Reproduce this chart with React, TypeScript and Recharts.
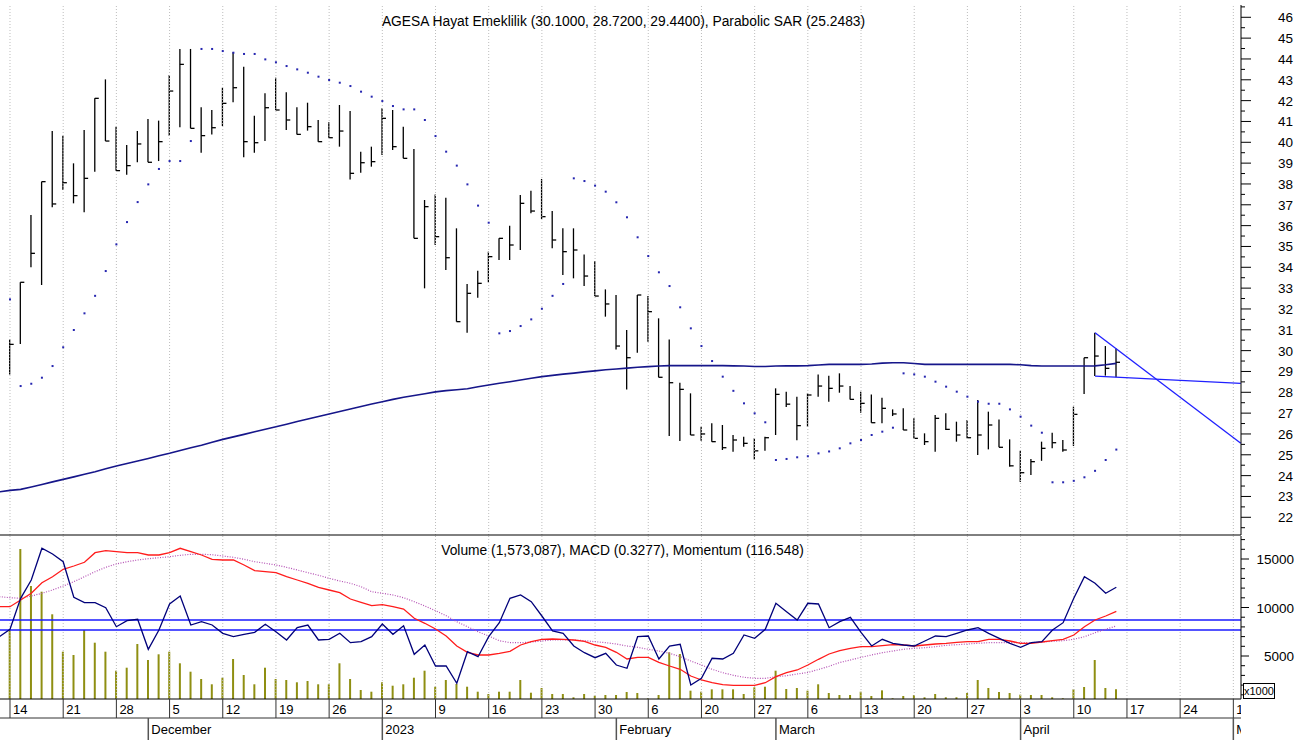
import { ComposedChart, Bar, Line, XAxis, YAxis, ReferenceLine } from 'recharts'

const FONT = '"Liberation Sans", Arial, Helvetica, sans-serif'
const PLOT_W = 1241

// trading-day index: 0 = 14 Nov 2022 ... 104 = 14 Apr 2023
const highs = [
    30.54, 33.28, 36.51, 38.11, 40.54, 40.32, 38.99, 40.59, 42.11, 43.02,
    40.75, 39.87, 40.54, 41.12, 41.04, 43.23, 44.48, 44.48, 41.68, 41.55,
    42.62, 44.32, 43.63, 41.28, 42.35, 43.1, 42.4, 41.68, 41.9, 41.07,
    40.96, 41.79, 41.5, 39.55, 39.79, 41.63, 41.55, 40.75, 39.68, 37.23,
    37.5, 37.34, 35.87, 33.2, 33.83, 34.75, 35.39, 36.0, 37.47, 37.68,
    38.24, 36.7, 35.87, 35.87, 34.62, 34.3, 32.94, 32.67, 30.99, 32.67,
    32.62, 31.55, 30.54, 28.46, 27.95, 26.35, 26.51, 26.43, 25.95, 25.87,
    25.79, 25.87, 28.19, 28.03, 27.79, 27.95, 28.86, 28.79, 28.91, 28.3,
    28.03, 27.9, 27.74, 27.18, 27.23, 26.75, 26.03, 26.91, 26.99, 26.59,
    26.67, 27.63, 27.07, 26.7, 25.74, 25.19, 24.8, 25.63, 26.06, 25.71,
    27.31, 29.66, 30.86, 30.22, 30.1,
]
const lows = [
    28.86, 30.32, 34.0, 33.15, 36.88, 37.71, 37.07, 36.64, 38.59, 40.06,
    38.64, 38.44, 39.04, 39.04, 39.1, 40.32, 40.72, 40.67, 39.5, 40.38,
    40.78, 41.92, 39.28, 39.5, 40.06, 41.55, 40.59, 40.38, 40.56, 40.03,
    40.22, 39.79, 38.22, 38.54, 38.83, 39.39, 39.63, 39.23, 35.39, 32.99,
    35.07, 33.87, 31.39, 30.86, 32.54, 33.28, 34.35, 34.35, 34.83, 36.59,
    36.32, 34.91, 33.63, 33.47, 33.1, 32.62, 31.63, 30.06, 28.14, 29.9,
    30.43, 28.72, 25.9, 25.66, 25.95, 25.67, 25.63, 25.23, 25.15, 25.39,
    24.78, 25.19, 25.95, 27.3, 25.7, 26.35, 27.79, 27.55, 27.98, 27.66,
    27.02, 26.54, 26.51, 26.86, 26.19, 25.79, 25.47, 25.15, 26.19, 25.63,
    25.79, 24.99, 25.26, 25.36, 24.43, 23.7, 24.03, 24.71, 25.31, 25.15,
    25.42, 27.92, 28.78, 28.8, 28.72,
]
const closes = [
    30.3, 33.28, 34.67, 38.11, 37.04, 38.06, 37.44, 38.27, 42.11, 40.06,
    38.64, 38.88, 39.92, 39.04, 40.03, 42.46, 43.74, 40.67, 40.32, 40.7,
    41.87, 42.62, 40.03, 39.98, 41.66, 41.55, 41.07, 40.38, 40.75, 40.03,
    40.22, 40.54, 38.51, 39.02, 39.07, 41.15, 39.79, 39.23, 35.39, 36.91,
    35.47, 34.46, 31.39, 32.75, 33.23, 34.51, 35.39, 35.07, 37.07, 36.7,
    36.43, 35.31, 34.75, 34.83, 33.58, 32.62, 32.24, 30.22, 29.66, 32.67,
    31.87, 28.72, 28.46, 28.14, 25.95, 26.0, 25.63, 25.34, 25.71, 25.55,
    25.19, 25.82, 27.9, 27.43, 26.4, 27.87, 28.3, 28.19, 28.3, 27.66,
    27.47, 26.54, 27.23, 26.96, 26.19, 25.79, 25.63, 26.75, 26.22, 25.95,
    25.82, 25.95, 26.43, 25.36, 24.47, 24.14, 24.67, 25.31, 25.58, 25.23,
    26.94, 29.66, 29.74, 29.15, 29.44,
]
const sarValues = [
    32.46, 28.3, 28.41, 28.7, 29.26, 30.16, 30.99, 31.79, 32.63, 33.82,
    35.1, 36.17, 37.13, 37.98, 38.72, 39.1, 39.1, 40.06, 44.48, 44.48,
    44.38, 44.3, 44.24, 44.24, 43.98, 43.84, 43.66, 43.5, 43.34, 43.15,
    42.99, 42.86, 42.7, 42.43, 42.19, 41.98, 41.74, 41.58, 41.58, 41.07,
    40.3, 39.55, 38.88, 37.98, 36.96, 36.14, 30.83, 30.94, 31.18, 31.5,
    32.01, 32.63, 33.2, 38.27, 38.14, 37.92, 37.63, 37.12, 36.4, 35.44,
    34.54, 33.76, 33.1, 32.08, 31.07, 30.22, 29.5, 28.75, 28.07, 27.47,
    26.99, 26.56, 24.75, 24.8, 24.88, 24.93, 25.07, 25.16, 25.31, 25.55,
    25.71, 25.95, 26.11, 26.3, 28.91, 28.86, 28.75, 28.51, 28.27, 28.03,
    27.79, 27.55, 27.45, 27.45, 27.18, 26.83, 26.4, 26.06, 23.68, 23.68,
    23.75, 23.92, 24.23, 24.75, 25.25,
]

// the series below start one day earlier (11 Nov 2022, index -1)
const maValues = [
    23.22,
    23.29, 23.34, 23.45, 23.57, 23.7, 23.82, 23.94, 24.07, 24.19, 24.33,
    24.46, 24.58, 24.7, 24.82, 24.95, 25.07, 25.21, 25.34, 25.46, 25.6,
    25.74, 25.86, 25.98, 26.11, 26.23, 26.35, 26.47, 26.6, 26.72, 26.84,
    26.96, 27.08, 27.2, 27.32, 27.44, 27.55, 27.66, 27.76, 27.85, 27.93,
    28.02, 28.08, 28.12, 28.17, 28.27, 28.35, 28.43, 28.51, 28.59, 28.67,
    28.75, 28.81, 28.87, 28.92, 28.98, 29.03, 29.08, 29.12, 29.16, 29.2,
    29.23, 29.26, 29.28, 29.28, 29.28, 29.28, 29.28, 29.28, 29.27, 29.26,
    29.24, 29.24, 29.26, 29.27, 29.27, 29.28, 29.31, 29.34, 29.34, 29.34,
    29.34, 29.36, 29.4, 29.42, 29.42, 29.38, 29.34, 29.34, 29.34, 29.34,
    29.34, 29.34, 29.34, 29.34, 29.34, 29.32, 29.28, 29.26, 29.26, 29.26,
    29.26, 29.26, 29.27, 29.32, 29.39,
]
const volumes = [
    null,
    7681, 16032, 12217, 11630, 9300, 5444, 5103, 7681, 6372, 5444,
    3485, 3794, 6237, 4588, 5175, 5444, 4248, 3382, 2629, 2083,
    2763, 4691, 3041, 2083, 3794, 2629, 2526, 2289, 2423, 2083,
    2083, 4248, 2629, 1495, 1320, 2289, 1938, 2083, 2763, 3485,
    1835, 2526, 2114, 1835, 1320, 1083, 1320, 1320, 2526, 1217,
    1701, 1083, 1083, 742, 1083, 907, 980, 980, 1290, 1186,
    640, 980, 5380, 5207, 1425, 1320, 1564, 1564, 1564, 1083,
    1770, 1835, 3485, 1598, 1701, 1425, 2083, 1186, 980, 980,
    1320, 876, 1460, 636, 876, 980, 742, 1083, 742, 742,
    1186, 2526, 1701, 1290, 1186, 1014, 980, 980, 742, 636,
    1564, 1804, 4588, 1701, 1573,
]
const macdValues = [
    10083,
    10083, 10774, 11465, 12558, 13176, 13939, 14279, 14661, 15651, 15857,
    15754, 15651, 15651, 15413, 15413, 15651, 16104, 15754, 15413, 14970,
    14898, 14898, 14382, 13795, 13692, 13589, 13176, 12836, 12496, 12083,
    11805, 11527, 10877, 10537, 10186, 10289, 10083, 9846, 8887, 8372,
    7784, 7062, 6031, 5382, 5103, 5103, 5279, 5485, 6134, 6475,
    6722, 6753, 6722, 6650, 6516, 6134, 5897, 5382, 4691, 4866,
    4866, 4351, 3969, 3629, 2938, 2526, 2248, 2041, 1980, 1980,
    1980, 2248, 2866, 3279, 3557, 4072, 4660, 5207, 5547, 5794,
    5959, 5959, 6062, 6165, 6134, 6031, 6134, 6238, 6310, 6413,
    6475, 6475, 6722, 6722, 6547, 6310, 6310, 6444, 6578, 6722,
    7165, 8021, 8712, 9124, 9609,
]
const signalValues = [
    11114,
    11011, 10949, 11186, 11465, 11805, 12217, 12661, 13176, 13692, 14145,
    14486, 14723, 14898, 15032, 15135, 15238, 15383, 15486, 15486, 15444,
    15310, 15176, 14970, 14723, 14558, 14382, 14145, 13867, 13589, 13321,
    13011, 12733, 12496, 12145, 11630, 11465, 11289, 11011, 10599, 10155,
    9671, 9155, 8537, 8021, 7506, 7062, 6578, 6372, 6372, 6444,
    6547, 6650, 6650, 6650, 6578, 6475, 6372, 6238, 6031, 5897,
    5691, 5516, 5279, 4928, 4485, 4072, 3629, 3279, 3011, 2804,
    2701, 2701, 2866, 2969, 3145, 3300, 3609, 3938, 4330, 4588,
    4866, 5103, 5341, 5516, 5691, 5794, 5856, 5959, 6104, 6165,
    6238, 6310, 6372, 6372, 6372, 6372, 6372, 6444, 6516, 6578,
    6722, 6990, 7403, 7753, 8093,
]
const momentumValues = [
    6990,
    7753, 10949, 12836, 16104, 15517, 14723, 11052, 10496, 10496, 9980,
    8021, 8640, 8784, 5691, 7681, 10362, 11186, 8196, 8537, 8196,
    7341, 6990, 7238, 7444, 8269, 7506, 6650, 7918, 8196, 6650,
    6722, 7341, 6372, 6475, 6990, 8300, 7238, 8124, 5176, 6134,
    3969, 3969, 2186, 5444, 4928, 6990, 8434, 10949, 11289, 10599,
    9124, 7578, 7341, 6031, 5341, 4825, 5279, 4072, 3732, 6990,
    7062, 4691, 6031, 6207, 2010, 2701, 4763, 4691, 5279, 7165,
    6825, 7753, 10434, 9568, 8712, 10434, 10362, 7918, 8537, 8990,
    7444, 6031, 6722, 6310, 6134, 6031, 6547, 7062, 6990, 7341,
    7681, 7918, 7341, 6825, 6310, 5897, 6372, 6475, 7681, 8434,
    10949, 13176, 12496, 11465, 12083,
]

const momentumLevels = [8712, 7681]
const trendLines = [
    { x1: 102, y1: 30.86, x2: 115.7, y2: 25.55 },
    { x1: 102, y1: 28.78, x2: 115.7, y2: 28.43 },
]

const weekTicks = [0, 5, 10, 15, 20, 25, 30, 35, 40, 45, 50, 55, 60, 65, 70, 75, 80, 85, 90, 95, 100, 105, 110, 115]
const weekLabels = ['14', '21', '28', '5', '12', '19', '26', '2', '9', '16', '23', '30', '6', '20', '27', '6', '13', '20', '27', '3', '10', '17', '24', '1']
const monthTicks = [13, 35, 57, 72, 95, 115]
const monthLabels = ['December', '2023', 'February', 'March', 'April', 'May']
const priceTicks = [
    21.5, 22, 22.5, 23, 23.5, 24, 24.5, 25, 25.5, 26, 26.5, 27, 27.5, 28, 28.5, 29, 29.5,
    30, 30.5, 31, 31.5, 32, 32.5, 33, 33.5, 34, 34.5, 35, 35.5, 36, 36.5, 37, 37.5, 38,
    38.5, 39, 39.5, 40, 40.5, 41, 41.5, 42, 42.5, 43, 43.5, 44, 44.5, 45, 45.5, 46, 46.5,
]
const volumeTicks = [1000, 2000, 3000, 4000, 5000, 6000, 7000, 8000, 9000, 10000, 11000, 12000, 13000, 14000, 15000, 16000, 17000]

const X_DOMAIN: [number, number] = [-0.94, 115.72]

const rows = maValues.map((ma, k) => {
    const d = k - 1
    const has = d >= 0
    return {
        i: d,
        hl: has ? [lows[d], highs[d]] : null,
        close: has ? closes[d] : null,
        sar: has ? sarValues[d] : null,
        ma,
        vol: volumes[k],
        macd: macdValues[k],
        signal: signalValues[k],
        mom: momentumValues[k],
    }
})

function HlcBar(props: any) {
    const { x, y, width, height, payload } = props
    if (!payload || !payload.hl || height == null) return <g />
    const cx = x + width / 2
    const top = Math.min(y, y + height)
    const bottom = Math.max(y, y + height)
    const [lo, hi] = payload.hl
    const cy = top + ((hi - payload.close) / (hi - lo)) * (bottom - top)
    return (
        <g>
            <line x1={cx} x2={cx} y1={top} y2={bottom} stroke="#000" strokeWidth={1.3} />
            <line x1={cx} x2={cx + 4} y1={cy} y2={cy} stroke="#000" strokeWidth={1.3} />
        </g>
    )
}

function SarDot(props: any) {
    const { cx, cy } = props
    if (cx == null || cy == null) return <g />
    return <rect x={cx - 1} y={cy - 1} width={2} height={2} fill="#2626b0" />
}

function PriceTick(props: any) {
    const { x, y, payload } = props
    const major = Number.isInteger(payload.value)
    return (
        <g>
            <line x1={x} x2={x + (major ? 10 : 4)} y1={y} y2={y} stroke="#000" />
            {major && (
                <text x={x + 52} y={y + 5} textAnchor="end" fontSize={13.5} fill="#000" fontFamily={FONT}>
                    {payload.value}
                </text>
            )}
        </g>
    )
}

function VolumeTick(props: any) {
    const { x, y, payload } = props
    const major = payload.value % 5000 === 0
    return (
        <g>
            <line x1={x} x2={x + (major ? 8 : 4)} y1={y} y2={y} stroke="#000" />
            {major && (
                <text x={x + 53} y={y + 5} textAnchor="end" fontSize={13.5} fill="#000" fontFamily={FONT}>
                    {payload.value}
                </text>
            )}
        </g>
    )
}

function WeekTick(props: any) {
    const { x, y, payload } = props
    const label = weekLabels[weekTicks.indexOf(payload.value)]
    return (
        <g>
            <line x1={x} x2={x} y1={y} y2={y + 19} stroke="#333" />
            <svg x={x} y={y} width={Math.max(0, PLOT_W - x)} height={19} overflow="hidden">
                <text x={3} y={15} fontSize={13} fill="#000" fontFamily={FONT}>{label}</text>
            </svg>
        </g>
    )
}

function MonthTick(props: any) {
    const { x, y, payload } = props
    const label = monthLabels[monthTicks.indexOf(payload.value)]
    return (
        <g>
            <line x1={x} x2={x} y1={y} y2={y + 22} stroke="#555" strokeWidth={1.5} />
            <svg x={x} y={y} width={Math.max(0, PLOT_W - x)} height={22} overflow="hidden">
                <text x={3} y={16} fontSize={13} fill="#000" fontFamily={FONT}>{label}</text>
            </svg>
        </g>
    )
}

const gridStroke = '#bdbdbd'

export default function App() {
    return (
        <div style={{ position: 'absolute', left: 0, top: 0, width: 1302, height: 740, background: '#fff', fontFamily: FONT }}>
            <ComposedChart width={1302} height={536} data={rows} margin={{ top: 5, right: 0, bottom: 0, left: 0 }}>
                <XAxis dataKey="i" type="number" domain={X_DOMAIN} allowDataOverflow height={1} tick={false} tickLine={false} axisLine={{ stroke: '#000' }} />
                <YAxis
                    orientation="right"
                    width={61}
                    type="number"
                    domain={[21.15, 46.59]}
                    allowDataOverflow
                    ticks={priceTicks}
                    interval={0}
                    tickSize={0}
                    tickMargin={0}
                    tickLine={false}
                    axisLine={{ stroke: '#000' }}
                    tick={<PriceTick />}
                />
                {weekTicks.map((t) => (
                    <ReferenceLine key={`g${t}`} x={t} stroke={gridStroke} strokeDasharray="1 2" />
                ))}
                <Line dataKey="ma" stroke="#16168a" strokeWidth={1.6} dot={false} isAnimationActive={false} />
                <Bar dataKey="hl" barSize={8} shape={HlcBar} isAnimationActive={false} />
                <Line dataKey="sar" stroke="none" dot={SarDot} activeDot={false} isAnimationActive={false} />
                {trendLines.map((s, k) => (
                    <ReferenceLine
                        key={`t${k}`}
                        segment={[{ x: s.x1, y: s.y1 }, { x: s.x2, y: s.y2 }]}
                        stroke="#2020ff"
                        strokeWidth={1.3}
                        ifOverflow="visible"
                    />
                ))}
            </ComposedChart>
            <ComposedChart width={1302} height={204} data={rows} margin={{ top: 0, right: 0, bottom: 0, left: 0 }}>
                <XAxis
                    dataKey="i"
                    type="number"
                    domain={X_DOMAIN}
                    allowDataOverflow
                    height={19}
                    ticks={weekTicks}
                    interval={0}
                    tickSize={0}
                    tickMargin={0}
                    tickLine={false}
                    axisLine={{ stroke: '#000' }}
                    tick={<WeekTick />}
                />
                <XAxis
                    xAxisId="m"
                    dataKey="i"
                    type="number"
                    domain={X_DOMAIN}
                    allowDataOverflow
                    height={22}
                    ticks={monthTicks}
                    interval={0}
                    tickSize={0}
                    tickMargin={0}
                    tickLine={false}
                    axisLine={{ stroke: '#333' }}
                    tick={<MonthTick />}
                />
                <YAxis
                    orientation="right"
                    width={61}
                    type="number"
                    domain={[567, 17372]}
                    allowDataOverflow
                    ticks={volumeTicks}
                    interval={0}
                    tickSize={0}
                    tickMargin={0}
                    tickLine={false}
                    axisLine={{ stroke: '#000' }}
                    tick={<VolumeTick />}
                />
                {weekTicks.map((t) => (
                    <ReferenceLine key={`g${t}`} x={t} stroke={gridStroke} strokeDasharray="1 2" />
                ))}
                <Bar dataKey="vol" barSize={2} fill="#8f8f12" isAnimationActive={false} />
                {momentumLevels.map((v) => (
                    <ReferenceLine key={`m${v}`} y={v} stroke="#1a1aff" strokeWidth={1.3} />
                ))}
                <Line dataKey="signal" stroke="#b450b4" strokeWidth={1.2} strokeDasharray="1 1.5" dot={false} isAnimationActive={false} />
                <Line dataKey="macd" stroke="#ff1c1c" strokeWidth={1.3} dot={false} isAnimationActive={false} />
                <Line dataKey="mom" stroke="#00007a" strokeWidth={1.3} dot={false} isAnimationActive={false} />
            </ComposedChart>
            <div style={{ position: 'absolute', left: 0, top: 14, width: 1247, textAlign: 'center', fontSize: 13.8, lineHeight: '15px', color: '#000' }}>
                AGESA Hayat Emeklilik (30.1000, 28.7200, 29.4400), Parabolic SAR (25.2483)
            </div>
            <div style={{ position: 'absolute', left: 0, top: 543, width: 1245, textAlign: 'center', fontSize: 13.8, lineHeight: '15px', color: '#000' }}>
                Volume (1,573,087), MACD (0.3277), Momentum (116.548)
            </div>
            <div style={{ position: 'absolute', left: 1243, top: 683, width: 30, height: 14, border: '1px solid #000', background: '#fff', fontSize: 11, lineHeight: '14px', textAlign: 'center', color: '#000' }}>
                x1000
            </div>
        </div>
    )
}
